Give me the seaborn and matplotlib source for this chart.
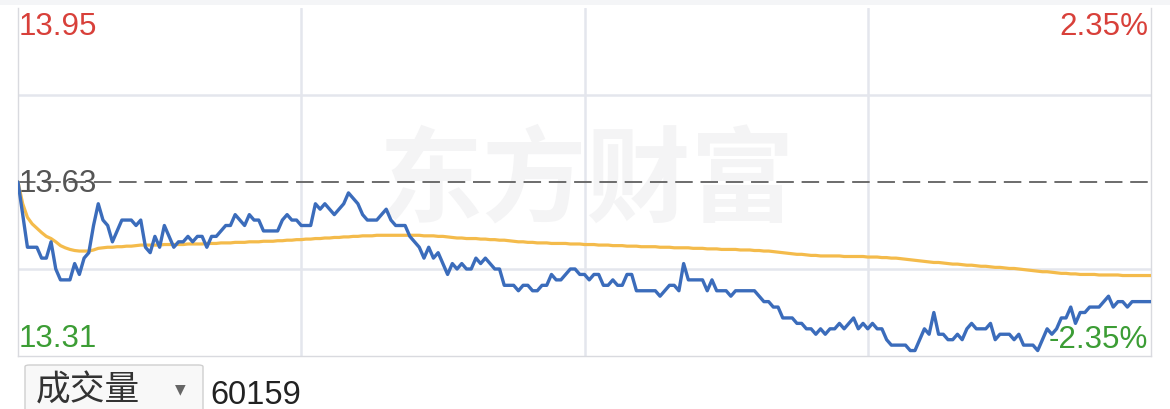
import matplotlib
matplotlib.use("Agg")
import matplotlib.pyplot as plt
from matplotlib.patches import FancyBboxPatch, Rectangle
import seaborn as sns
import pandas as pd

# ---------------- data ----------------
prev_close = 13.63
y_low, y_high = 13.31, 13.95
pct_high_label, pct_low_label = "2.35%", "-2.35%"
volume_label = "成交量"
volume_value = "60159"
watermark = "东方财富"

price = [
    13.63, 13.57, 13.51, 13.51, 13.51, 13.49, 13.49, 13.52, 13.47, 13.45,
    13.45, 13.45, 13.48, 13.46, 13.49, 13.50, 13.55, 13.59, 13.56, 13.55,
    13.52, 13.54, 13.56, 13.56, 13.56, 13.55, 13.56, 13.51, 13.50, 13.53,
    13.51, 13.55, 13.53, 13.51, 13.52, 13.52, 13.53, 13.52, 13.53, 13.53,
    13.51, 13.53, 13.53, 13.54, 13.55, 13.55, 13.57, 13.56, 13.55, 13.57,
    13.56, 13.56, 13.54, 13.54, 13.54, 13.54, 13.56, 13.57, 13.56, 13.56,
    13.55, 13.55, 13.55, 13.59, 13.58, 13.59, 13.58, 13.57, 13.58, 13.59,
    13.61, 13.60, 13.59, 13.57, 13.56, 13.56, 13.56, 13.57, 13.58, 13.56,
    13.55, 13.55, 13.55, 13.53, 13.52, 13.51, 13.49, 13.51, 13.49, 13.50,
    13.48, 13.46, 13.48, 13.47, 13.48, 13.47, 13.47, 13.49, 13.48, 13.49,
    13.48, 13.47, 13.47, 13.44, 13.44, 13.44, 13.43, 13.44, 13.44, 13.43,
    13.43, 13.44, 13.44, 13.46, 13.45, 13.45, 13.46, 13.47, 13.47, 13.46,
    13.46, 13.45, 13.46, 13.46, 13.44, 13.44, 13.45, 13.44, 13.44, 13.46,
    13.46, 13.43, 13.43, 13.43, 13.43, 13.43, 13.42, 13.43, 13.44, 13.44,
    13.43, 13.48, 13.45, 13.45, 13.45, 13.45, 13.43, 13.45, 13.43, 13.43,
    13.43, 13.42, 13.43, 13.43, 13.43, 13.43, 13.43, 13.42, 13.41, 13.41,
    13.40, 13.40, 13.38, 13.38, 13.38, 13.37, 13.37, 13.36, 13.36, 13.35,
    13.36, 13.35, 13.36, 13.36, 13.37, 13.36, 13.37, 13.38, 13.36, 13.37,
    13.36, 13.37, 13.36, 13.36, 13.34, 13.33, 13.33, 13.33, 13.33, 13.32,
    13.32, 13.34, 13.36, 13.35, 13.39, 13.35, 13.35, 13.34, 13.34, 13.35,
    13.34, 13.36, 13.37, 13.36, 13.36, 13.36, 13.37, 13.34, 13.35, 13.35,
    13.35, 13.34, 13.35, 13.33, 13.33, 13.33, 13.32, 13.34, 13.36, 13.35,
    13.36, 13.38, 13.38, 13.40, 13.37, 13.39, 13.39, 13.40, 13.40, 13.40,
    13.41, 13.42, 13.40, 13.41, 13.41, 13.40, 13.41, 13.41, 13.41, 13.41,
    13.41,
]

avg_price = [
    13.630, 13.590, 13.565, 13.553, 13.545, 13.537, 13.530, 13.526, 13.520, 13.513,
    13.509, 13.506, 13.504, 13.503, 13.503, 13.503, 13.505, 13.508, 13.509, 13.510,
    13.510, 13.511, 13.511, 13.512, 13.512, 13.513, 13.514, 13.514, 13.514, 13.514,
    13.514, 13.515, 13.515, 13.515, 13.515, 13.515, 13.516, 13.516, 13.516, 13.516,
    13.517, 13.517, 13.517, 13.518, 13.518, 13.518, 13.519, 13.519, 13.519, 13.520,
    13.520, 13.520, 13.521, 13.521, 13.521, 13.522, 13.522, 13.523, 13.523, 13.524,
    13.524, 13.525, 13.525, 13.526, 13.526, 13.527, 13.527, 13.528, 13.528, 13.529,
    13.529, 13.530, 13.530, 13.531, 13.531, 13.531, 13.532, 13.532, 13.532, 13.532,
    13.532, 13.532, 13.532, 13.532, 13.532, 13.532, 13.531, 13.531, 13.531, 13.530,
    13.530, 13.529, 13.528, 13.527, 13.527, 13.526, 13.526, 13.526, 13.525, 13.525,
    13.524, 13.524, 13.523, 13.523, 13.522, 13.521, 13.520, 13.520, 13.519, 13.519,
    13.518, 13.518, 13.518, 13.517, 13.517, 13.517, 13.517, 13.516, 13.516, 13.516,
    13.515, 13.515, 13.515, 13.514, 13.514, 13.514, 13.513, 13.513, 13.513, 13.512,
    13.512, 13.512, 13.511, 13.511, 13.511, 13.511, 13.510, 13.510, 13.510, 13.509,
    13.509, 13.509, 13.509, 13.508, 13.508, 13.508, 13.507, 13.507, 13.507, 13.506,
    13.506, 13.506, 13.506, 13.505, 13.505, 13.505, 13.504, 13.504, 13.503, 13.503,
    13.502, 13.501, 13.500, 13.499, 13.498, 13.497, 13.497, 13.496, 13.495, 13.495,
    13.494, 13.494, 13.494, 13.494, 13.494, 13.493, 13.493, 13.493, 13.493, 13.493,
    13.492, 13.492, 13.492, 13.491, 13.491, 13.490, 13.490, 13.489, 13.488, 13.487,
    13.486, 13.485, 13.484, 13.483, 13.482, 13.482, 13.481, 13.480, 13.479, 13.479,
    13.478, 13.477, 13.477, 13.476, 13.475, 13.475, 13.474, 13.473, 13.473, 13.472,
    13.471, 13.471, 13.470, 13.469, 13.468, 13.467, 13.466, 13.465, 13.465, 13.464,
    13.463, 13.462, 13.462, 13.461, 13.461, 13.460, 13.460, 13.460, 13.460, 13.459,
    13.459, 13.459, 13.459, 13.459, 13.458, 13.458, 13.458, 13.458, 13.458, 13.458,
    13.458,
]

minute = list(range(len(price)))
df = pd.DataFrame({"minute": minute, "price": price, "avg": avg_price})

# ---------------- figure ----------------
sns.set_theme(style="white")
plt.rcParams["font.family"] = ["Liberation Sans", "Noto Sans CJK SC", "DejaVu Sans"]

W, H = 1170, 410
fig = plt.figure(figsize=(W / 100, H / 100), dpi=100)
fig.patch.set_facecolor("white")

def fx(px):
    return px / W

def fy(py):
    return 1 - py / H

# top grey band
fig.add_artist(Rectangle((0, fy(6)), 1, 6 / H, transform=fig.transFigure,
                         facecolor="#f4f5f7", edgecolor="none", zorder=0))

ax_l, ax_r, ax_t, ax_b = 18, 1151, 9, 357
ax = fig.add_axes([fx(ax_l), fy(ax_b), (ax_r - ax_l) / W, (ax_b - ax_t) / H])
ax.set_facecolor("none")

ax.set_xlim(0, 240)
ax.set_ylim(y_low, y_high)

# grid
ax.set_xticks([60, 120, 180])
ax.set_yticks([13.47, 13.79])
ax.grid(True, color="#e4e6ed", linewidth=1.8, zorder=0)
ax.tick_params(length=0, labelbottom=False, labelleft=False)

for side in ["left", "right", "bottom"]:
    ax.spines[side].set_color("#d9dadf")
    ax.spines[side].set_linewidth(1.0)
ax.spines["top"].set_visible(False)

# watermark
ax.text(0.502, 0.50, watermark, transform=ax.transAxes, ha="center", va="center",
        fontsize=75, fontweight="bold", color="#f4f4f5",
        family=["Noto Sans CJK SC"], zorder=1)

# previous close dashed
ax.axhline(prev_close, color="#6b6b6b", linewidth=1.4,
           linestyle=(0, (9.0, 4.0)), zorder=2)

sns.lineplot(data=df, x="minute", y="avg", ax=ax, color="#f4bb4b",
             linewidth=2.3, zorder=3, legend=False)
sns.lineplot(data=df, x="minute", y="price", ax=ax, color="#3b6cbb",
             linewidth=2.4, zorder=4, legend=False)
ax.set_xlabel("")
ax.set_ylabel("")

# labels
red, green, grey = "#d8403a", "#3c9d35", "#555555"
fs = 22.6
fig.text(fx(19), fy(35), f"{y_high:.2f}", color=red, fontsize=fs, va="baseline", ha="left")
fig.text(fx(19), fy(192), f"{prev_close:.2f}", color=grey, fontsize=fs, va="baseline", ha="left")
fig.text(fx(19), fy(347), f"{y_low:.2f}", color=green, fontsize=fs, va="baseline", ha="left")
fig.text(fx(1148), fy(35), pct_high_label, color=red, fontsize=fs, va="baseline", ha="right")
fig.text(fx(1148), fy(348), pct_low_label, color=green, fontsize=fs, va="baseline", ha="right")

# bottom selector box
box = FancyBboxPatch((fx(25), fy(412)), (203 - 25) / W, (412 - 366) / H,
                     boxstyle="round,pad=0,rounding_size=0.004",
                     transform=fig.transFigure, facecolor="#f8f8f8",
                     edgecolor="#cfcfcf", linewidth=1.0, zorder=1)
fig.add_artist(box)
fig.text(fx(36), fy(401), volume_label, color="#333333", fontsize=25,
         va="baseline", ha="left", family=["Noto Sans CJK SC"])
fig.text(fx(180), fy(393), "▼", color="#666666", fontsize=10,
         va="baseline", ha="center", family=["DejaVu Sans"])
fig.text(fx(210), fy(404), volume_value, color="#222222", fontsize=23.5,
         va="baseline", ha="left")

fig.savefig("out.png", dpi=100, facecolor="white")
